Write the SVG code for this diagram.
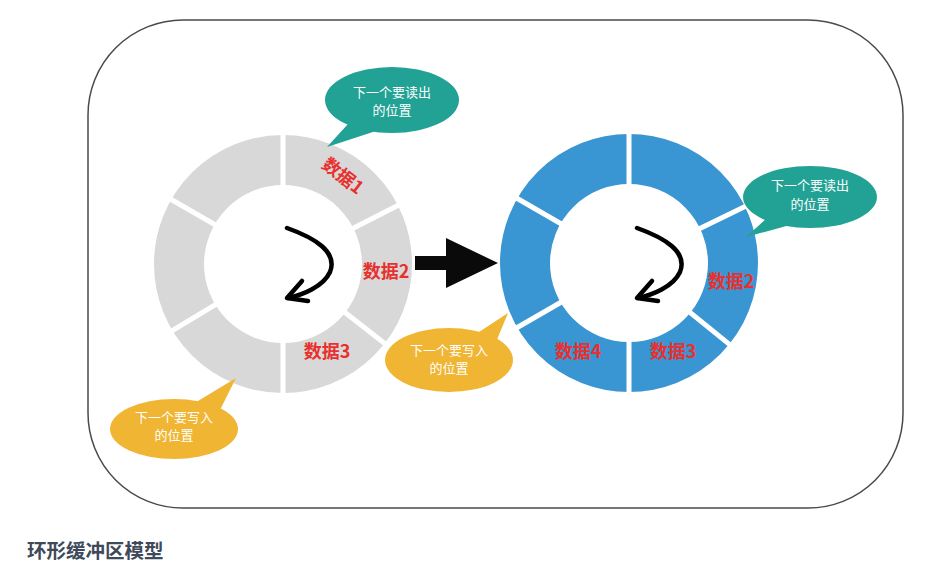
<svg xmlns="http://www.w3.org/2000/svg" width="937" height="574" viewBox="0 0 937 574">
<style>
.ring-gray{fill:none;stroke:#d8d8d8;stroke-width:50}
.ring-blue{fill:none;stroke:#3a95d3;stroke-width:50}
.gap{stroke:#ffffff;stroke-width:5}
.curve{fill:none;stroke:#000;stroke-width:4.5;stroke-linecap:round;stroke-linejoin:round}
.lbl{font-family:"Noto Sans CJK SC","Liberation Sans",sans-serif;font-size:18px;font-weight:bold;fill:#e8302e;text-anchor:middle}
.bt{font-family:"Noto Sans CJK SC","Liberation Sans",sans-serif;font-size:13px;fill:#ffffff;text-anchor:middle}
.teal{fill:#22a294}
.yellow{fill:#f0b532}
.cap{font-family:"Noto Sans CJK SC","Liberation Sans",sans-serif;font-size:19.5px;font-weight:bold;fill:#3e4a5a}
</style>
<rect x="0" y="0" width="937" height="574" fill="#ffffff"/>
<rect id="frame" x="88" y="20" width="815" height="488" rx="95" ry="95" fill="none" stroke="#4a4a4a" stroke-width="1.5"/>

<g id="ring-left">
<circle class="ring-gray" cx="283" cy="264" r="104"/>
<g transform="translate(283 264)">
<line class="gap" x1="0" y1="0" x2="136" y2="0" transform="rotate(-90)"/>
<line class="gap" x1="0" y1="0" x2="136" y2="0" transform="rotate(-27)"/>
<line class="gap" x1="0" y1="0" x2="136" y2="0" transform="rotate(38)"/>
<line class="gap" x1="0" y1="0" x2="136" y2="0" transform="rotate(90)"/>
<line class="gap" x1="0" y1="0" x2="136" y2="0" transform="rotate(149)"/>
<line class="gap" x1="0" y1="0" x2="136" y2="0" transform="rotate(210)"/>
</g>
<text class="lbl" transform="translate(339 181) rotate(38)">数据1</text>
<text class="lbl" x="386" y="278">数据2</text>
<text class="lbl" x="327" y="358">数据3</text>
</g>

<g id="ring-right">
<circle class="ring-blue" cx="629" cy="263" r="104"/>
<g transform="translate(629 263)">
<line class="gap" x1="0" y1="0" x2="136" y2="0" transform="rotate(-90)"/>
<line class="gap" x1="0" y1="0" x2="136" y2="0" transform="rotate(-26)"/>
<line class="gap" x1="0" y1="0" x2="136" y2="0" transform="rotate(39)"/>
<line class="gap" x1="0" y1="0" x2="136" y2="0" transform="rotate(90)"/>
<line class="gap" x1="0" y1="0" x2="136" y2="0" transform="rotate(150)"/>
<line class="gap" x1="0" y1="0" x2="136" y2="0" transform="rotate(210)"/>
</g>
<text class="lbl" x="731" y="288">数据2</text>
<text class="lbl" x="673" y="358">数据3</text>
<text class="lbl" x="578" y="358">数据4</text>
</g>

<g id="connectors">
<path class="curve" d="M287,228 C315,238 338,252 330,272 C323,287 302,295 288,298"/>
<path class="curve" d="M302,281 L287,298 L308,301"/>
<path class="curve" d="M637,228 C665,238 688,252 680,272 C673,287 652,295 638,298"/>
<path class="curve" d="M652,281 L637,298 L658,301"/>
<polygon id="big-arrow" points="415,256 446,256 446,238 498,263 446,288 446,270 415,270" fill="#0a0a0a"/>
</g>

<g id="callout-read-left">
<ellipse class="teal" cx="392" cy="100" rx="67" ry="33"/>
<polygon class="teal" points="348,124 327,147 376,131"/>
<text class="bt" x="392" y="97">下一个要读出</text>
<text class="bt" x="392" y="115">的位置</text>
</g>

<g id="callout-write-left">
<ellipse class="yellow" cx="174" cy="429" rx="64" ry="30"/>
<polygon class="yellow" points="193,404 236,378 220,410"/>
<text class="bt" x="174" y="422">下一个要写入</text>
<text class="bt" x="174" y="440">的位置</text>
</g>

<g id="callout-write-right">
<ellipse class="yellow" cx="449" cy="360" rx="64" ry="32"/>
<polygon class="yellow" points="476,334 508,313 496,342"/>
<text class="bt" x="449" y="355">下一个要写入</text>
<text class="bt" x="449" y="373">的位置</text>
</g>

<g id="callout-read-right">
<ellipse class="teal" cx="810" cy="197" rx="67" ry="31"/>
<polygon class="teal" points="767,218 746,237 790,225"/>
<text class="bt" x="810" y="190">下一个要读出</text>
<text class="bt" x="810" y="209">的位置</text>
</g>

<text class="cap" x="27" y="558">环形缓冲区模型</text>
</svg>
